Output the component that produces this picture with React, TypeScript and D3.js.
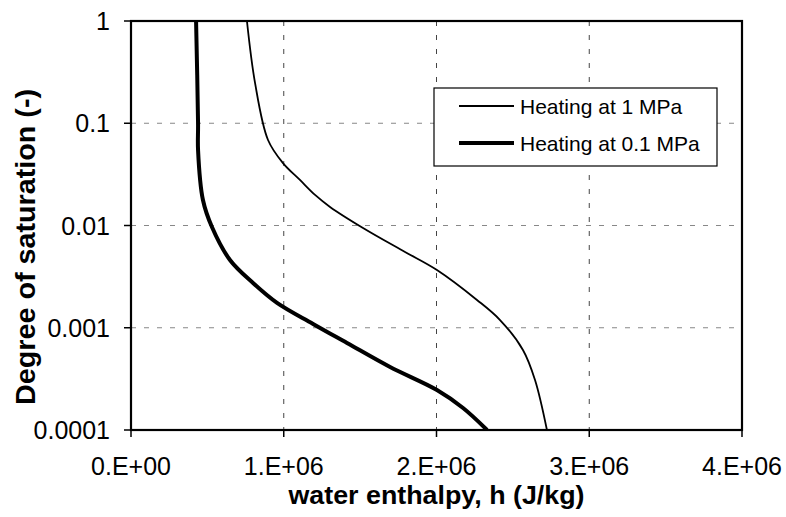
import React from "react";
import * as d3 from "d3";

const W = 786;
const H = 517;

// Heating at 1 MPa: water enthalpy (J/kg) vs degree of saturation (-)
const h1MPa = [0.759e6, 0.812e6, 0.897e6, 0.995e6, 1.106e6, 1.205e6, 1.303e6, 1.519e6, 1.794e6, 2.003e6, 2.265e6, 2.416e6, 2.566e6, 2.645e6, 2.723e6];
const s1MPa = [1, 0.248, 0.0686, 0.0408, 0.0279, 0.0199, 0.0152, 0.00946, 0.00551, 0.00367, 0.00187, 0.00119, 0.000606, 0.000308, 0.0001];

// Heating at 0.1 MPa
const h01MPa = [0.426e6, 0.439e6, 0.439e6, 0.471e6, 0.53e6, 0.648e6, 0.799e6, 0.956e6, 1.192e6, 1.414e6, 1.696e6, 2.003e6, 2.174e6, 2.331e6];
const s01MPa = [1, 0.1, 0.0547, 0.01776, 0.00966, 0.0046, 0.00274, 0.00175, 0.00109, 0.00071, 0.000413, 0.000246, 0.000164, 0.0001];

const xTicks = [0, 1e6, 2e6, 3e6, 4e6];
const xTickLabels = ["0.E+00", "1.E+06", "2.E+06", "3.E+06", "4.E+06"];
const yTicks = [1, 0.1, 0.01, 0.001, 0.0001];
const yTickLabels = ["1", "0.1", "0.01", "0.001", "0.0001"];

const seriesNames = ["Heating at 1 MPa", "Heating at 0.1 MPa"];

const left = 131, right = 742, top = 21, bottom = 430;
const FONT = "'Liberation Sans', Arial, sans-serif";

export default function App() {
  const x = d3.scaleLinear().domain([0, 4e6]).range([left, right]);
  const y = d3.scaleLog().domain([0.0001, 1]).range([bottom, top]);
  const line = d3
    .line<[number, number]>()
    .x((d) => x(d[0]))
    .y((d) => y(d[1]))
    .curve(d3.curveCatmullRom.alpha(0.5));
  const d1 = line(h1MPa.map((h, i) => [h, s1MPa[i]] as [number, number])) || "";
  const d2 = line(h01MPa.map((h, i) => [h, s01MPa[i]] as [number, number])) || "";

  const legX = 434, legY = 88, legW = 283, legH = 78;

  return (
    <svg
      width={W}
      height={H}
      style={{ position: "absolute", left: 0, top: 0, background: "#fff" }}
      fontFamily={FONT}
    >
      <rect x={0} y={0} width={W} height={H} fill="#fff" />
      <defs>
        <clipPath id="plot">
          <rect x={left} y={top} width={right - left} height={bottom - top} />
        </clipPath>
      </defs>
      {/* horizontal gridlines */}
      {yTicks.slice(1, -1).map((t) => (
        <line key={"hg" + t} x1={left} x2={right} y1={y(t)} y2={y(t)} stroke="#888" strokeWidth={1.2} strokeDasharray="5,8" />
      ))}
      {/* vertical gridlines */}
      {xTicks.slice(1, -1).map((t) => (
        <line key={"vg" + t} x1={x(t)} x2={x(t)} y1={top} y2={bottom} stroke="#444" strokeWidth={1} strokeDasharray="5,9" />
      ))}
      {/* series */}
      <g clipPath="url(#plot)">
        <path d={d1} fill="none" stroke="#000" strokeWidth={1.8} strokeLinejoin="round" />
        <path d={d2} fill="none" stroke="#000" strokeWidth={4} strokeLinejoin="round" />
      </g>
      {/* frame */}
      <rect x={left} y={top} width={right - left} height={bottom - top} fill="none" stroke="#000" strokeWidth={2.2} />
      {/* y ticks */}
      {yTicks.map((t, i) => (
        <g key={"yt" + t}>
          <line x1={left - 7} x2={left} y1={y(t)} y2={y(t)} stroke="#000" strokeWidth={1.5} />
          <text x={110} y={y(t)} dy="0.36em" textAnchor="end" fontSize={25} fill="#000">
            {yTickLabels[i]}
          </text>
        </g>
      ))}
      {/* x ticks */}
      {xTicks.map((t, i) => (
        <g key={"xt" + t}>
          <line x1={x(t)} x2={x(t)} y1={bottom} y2={bottom + 7} stroke="#000" strokeWidth={1.5} />
          <text x={x(t)} y={475} textAnchor="middle" fontSize={25} fill="#000">
            {xTickLabels[i]}
          </text>
        </g>
      ))}
      {/* axis titles */}
      <text
        x={(left + right) / 2}
        y={504}
        textAnchor="middle"
        fontSize={25}
        fontWeight="bold"
        textLength={296}
        lengthAdjust="spacingAndGlyphs"
        fill="#000"
      >
        water enthalpy, h (J/kg)
      </text>
      <text
        transform={`translate(${35},${247}) rotate(-90)`}
        textAnchor="middle"
        fontSize={27.5}
        fontWeight="bold"
        textLength={316}
        lengthAdjust="spacingAndGlyphs"
        fill="#000"
      >
        Degree of saturation (-)
      </text>
      {/* legend */}
      <rect x={legX} y={legY} width={legW} height={legH} fill="#fff" stroke="#000" strokeWidth={1.2} />
      {seriesNames.map((name, i) => {
        const ly = legY + 18 + i * 37;
        return (
          <g key={name}>
            <line x1={459} x2={514} y1={ly} y2={ly} stroke="#000" strokeWidth={i === 0 ? 1.8 : 4} />
            <text x={520} y={ly} dy="0.36em" fontSize={21} fill="#000">
              {name}
            </text>
          </g>
        );
      })}
    </svg>
  );
}
